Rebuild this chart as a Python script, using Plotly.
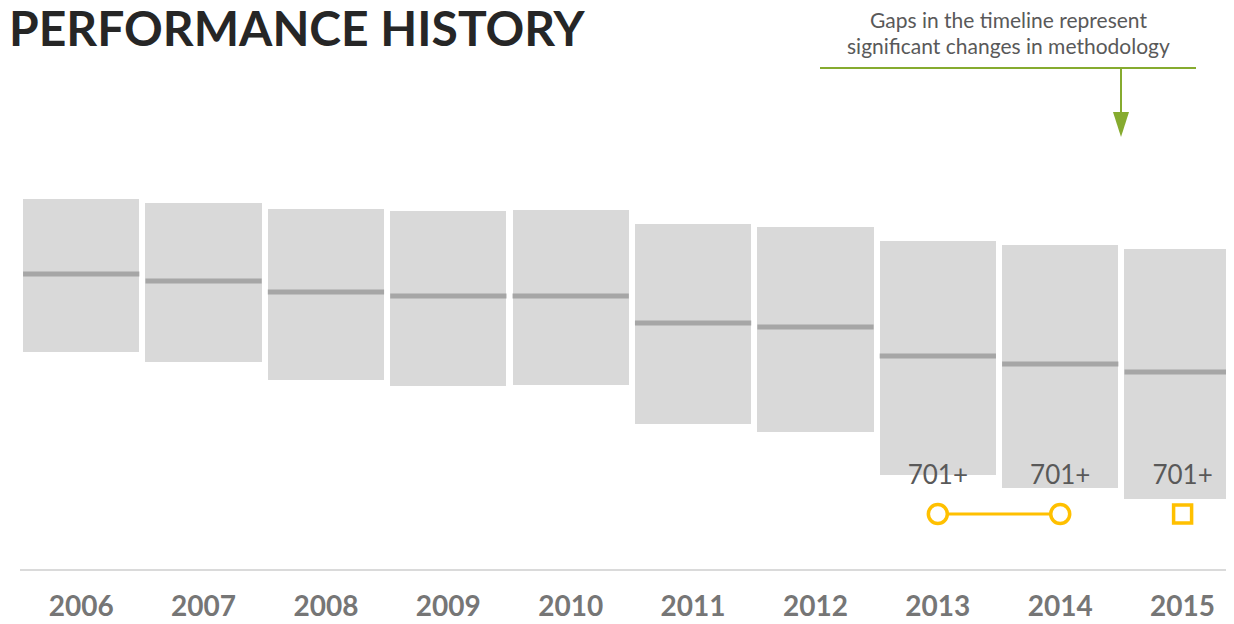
import plotly.graph_objects as go

# ---- data ----
years = [2006, 2007, 2008, 2009, 2010, 2011, 2012, 2013, 2014, 2015]
band_top = [370, 366, 360, 358, 359, 345, 342, 328, 324, 320]
band_bottom = [217, 207, 189, 183, 184, 145, 137, 94, 81, 70]
band_median = [295, 288, 277, 273, 273, 246, 242, 213, 205, 197]

rank_years_connected = [2013, 2014]
rank_years_single = [2015]
rank_level = 55
rank_label_years = [2013, 2014, 2015]
rank_labels = ["701+", "701+", "701+"]
rank_label_level = 92

note_lines = ["Gaps in the timeline represent", "significant changes in methodology"]
title_text = "PERFORMANCE HISTORY"

BAR_W = 0.95
FONT = "Lato"
GREEN = "#86ab2f"
YELLOW = "#ffc000"

fig = go.Figure()

fig.add_trace(go.Bar(
    x=years,
    y=[t - b for t, b in zip(band_top, band_bottom)],
    base=band_bottom,
    width=BAR_W,
    marker=dict(color="#d9d9d9", line=dict(width=0)),
    hoverinfo="skip",
))

mx, my = [], []
for yr, m in zip(years, band_median):
    mx += [yr - BAR_W / 2, yr + BAR_W / 2, None]
    my += [m, m, None]
fig.add_trace(go.Scatter(
    x=mx, y=my, mode="lines",
    line=dict(color="#a6a6a6", width=5),
    hoverinfo="skip",
))

fig.add_trace(go.Scatter(
    x=rank_label_years, y=[rank_label_level] * len(rank_label_years),
    mode="text", text=rank_labels,
    textfont=dict(family=FONT, size=26, color="#595959"),
    textposition="middle center",
    hoverinfo="skip",
))

fig.add_trace(go.Scatter(
    x=rank_years_connected, y=[rank_level] * len(rank_years_connected),
    mode="lines+markers",
    line=dict(color=YELLOW, width=3),
    marker=dict(symbol="circle", size=19, color="white",
                line=dict(color=YELLOW, width=3.5)),
    hoverinfo="skip",
))
fig.add_trace(go.Scatter(
    x=rank_years_single, y=[rank_level] * len(rank_years_single),
    mode="markers",
    marker=dict(symbol="square", size=18, color="white",
                line=dict(color=YELLOW, width=3.5)),
    hoverinfo="skip",
))

# page has an 8px body margin; figure coordinates = reference pixels - 8
OFF = 8
W, H = 1234 - OFF, 624 - OFF
ML, MR, MT, MB = 20 - OFF, 0, 70 - OFF, 624 - 569
pw, ph = W - ML - MR, H - MT - MB


def px(xp):
    return (xp - OFF - ML) / pw


def py(yp):
    return (H - MB - (yp - OFF)) / ph


shapes = [
    dict(type="line", xref="paper", yref="paper",
         x0=px(820), x1=px(1196), y0=py(68), y1=py(68),
         line=dict(color=GREEN, width=2)),
    dict(type="line", xref="paper", yref="paper",
         x0=px(1121), x1=px(1121), y0=py(68), y1=py(113),
         line=dict(color=GREEN, width=2)),
    dict(type="path", xref="paper", yref="paper",
         path=f"M {px(1113)},{py(112)} L {px(1129)},{py(112)} L {px(1121)},{py(137)} Z",
         fillcolor=GREEN, line=dict(color=GREEN, width=0)),
]

annotations = []
for txt, yc in zip(note_lines, [20, 46]):
    annotations.append(dict(
        xref="paper", yref="paper", x=px(1008), y=py(yc),
        text=txt, showarrow=False, xanchor="center", yanchor="middle",
        font=dict(family=FONT, size=21, color="#595959"),
    ))
annotations.append(dict(
    xref="paper", yref="paper", x=px(8), y=py(28),
    text=title_text, showarrow=False, xanchor="left", yanchor="middle",
    borderpad=0,
    font=dict(family=FONT, size=48, color="#262626", weight="bold"),
))

fig.update_layout(
    width=W, height=H,
    margin=dict(l=ML, r=MR, t=MT, b=MB),
    paper_bgcolor="white", plot_bgcolor="white",
    showlegend=False,
    xaxis=dict(
        range=[2005.5, 2015.42],
        tickvals=years, ticktext=[str(y) for y in years],
        tickfont=dict(family=FONT, size=28, color="#767676", weight="bold"),
        ticks="outside", ticklen=11, tickcolor="rgba(0,0,0,0)",
        showline=True, linecolor="#dadada", linewidth=2,
        showgrid=False, zeroline=False, fixedrange=True,
    ),
    yaxis=dict(range=[0, ph], visible=False, showgrid=False, zeroline=False),
    shapes=shapes,
    annotations=annotations,
    bargap=0,
)

fig.write_html("out.html")
